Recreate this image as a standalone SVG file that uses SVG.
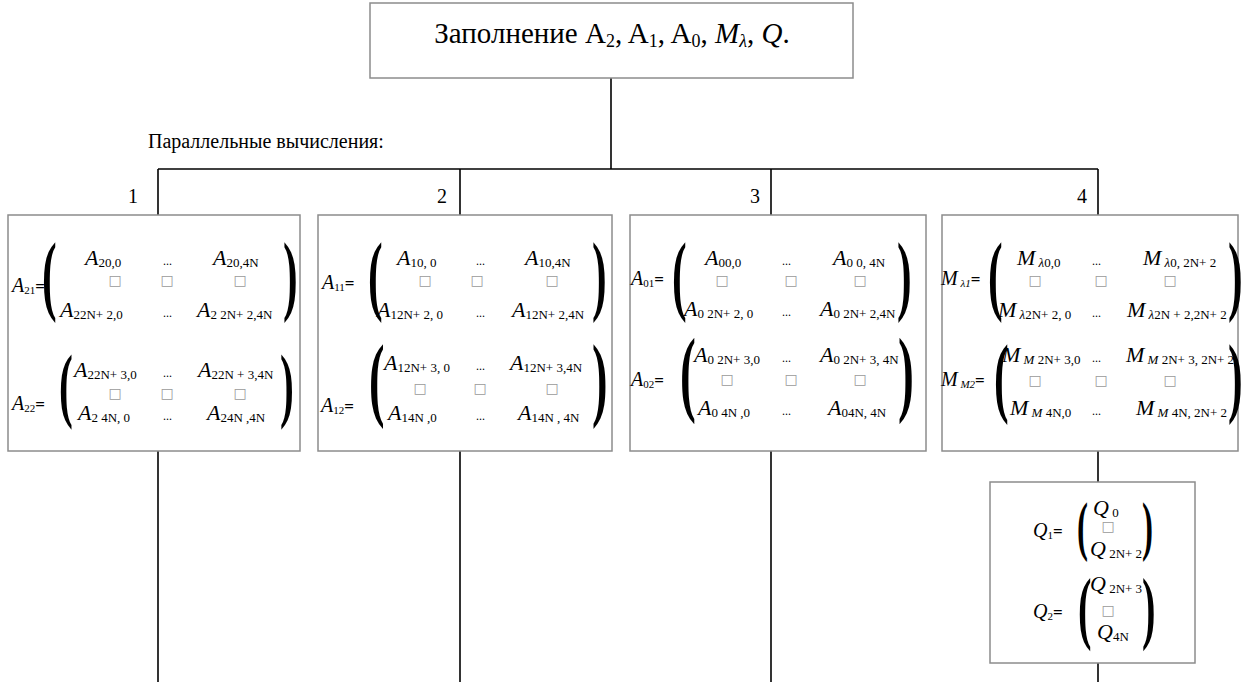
<svg xmlns="http://www.w3.org/2000/svg" width="1245" height="682" viewBox="0 0 1245 682">
<style>
.t{font-family:"Liberation Serif",serif;fill:#000}
.i{font-style:italic}
.m{font-size:22px}
.l{font-size:20px}
.s{font-size:13px;font-style:normal}
.si{font-size:13px;font-style:italic}
.ls{font-size:11px;font-style:normal}
.lsi{font-size:11px;font-style:italic}
.d{font-family:"Liberation Serif",serif;font-size:12px;fill:#000}
.q{font-family:"DejaVu Sans",sans-serif;font-size:14px;fill:#999;text-anchor:middle}
.qg{opacity:0.99}
.p{font-family:"Liberation Serif",serif;font-weight:bold;fill:#000}
.eq{font-weight:bold;font-size:17px}
.box{fill:#fff;stroke:#8c8c8c;stroke-width:1.5}
.ln{stroke:#000;stroke-width:1.6;fill:none}
.h{font-family:"Liberation Serif",serif;font-size:20px;fill:#000}
</style>
<rect width="1245" height="682" fill="#fff"/>
<g id="connectors">
<line class="ln" x1="611" y1="78" x2="611" y2="169"/>
<line class="ln" x1="158" y1="169" x2="1098" y2="169"/>
<line class="ln" x1="158" y1="169" x2="158" y2="215"/>
<line class="ln" x1="460" y1="169" x2="460" y2="215"/>
<line class="ln" x1="771" y1="169" x2="771" y2="215"/>
<line class="ln" x1="1098" y1="169" x2="1098" y2="215"/>
<line class="ln" x1="158" y1="451" x2="158" y2="682"/>
<line class="ln" x1="460" y1="451" x2="460" y2="682"/>
<line class="ln" x1="771" y1="451" x2="771" y2="682"/>
<line class="ln" x1="1098" y1="451" x2="1098" y2="482"/>
<line class="ln" x1="1098" y1="663" x2="1098" y2="682"/>
</g>
<g id="top">
<rect class="box" x="370" y="3" width="483" height="75"/>
<text class="t" font-size="29" x="612" y="43" text-anchor="middle">Заполнение A<tspan font-size="18" dy="4">2</tspan><tspan dy="-4">, A</tspan><tspan font-size="18" dy="4">1</tspan><tspan dy="-4">, A</tspan><tspan font-size="18" dy="4">0</tspan><tspan dy="-4">, </tspan><tspan class="i">M</tspan><tspan class="i" font-size="18" dy="4">λ</tspan><tspan dy="-4">, </tspan><tspan class="i">Q</tspan>.</text>
</g>
<g id="labels">
<text class="h" x="148" y="148">Параллельные вычисления:</text>
<text class="h" x="128" y="203">1</text>
<text class="h" x="437" y="203">2</text>
<text class="h" x="750" y="203">3</text>
<text class="h" x="1077" y="203">4</text>
</g>
<g id="node1">
<rect class="box" x="8" y="215" width="292" height="236"/>
<text class="t l" x="12" y="292"><tspan class="i">A</tspan><tspan class="ls" dy="2">21</tspan><tspan class="eq" dy="-2">=</tspan></text>
<text class="p" font-size="88" transform="translate(42,304) scale(0.5,1)">(</text>
<text class="p" font-size="88" transform="translate(283,304) scale(0.5,1)">)</text>
<text class="t m" x="85" y="265"><tspan class="i">A</tspan><tspan class="s" dy="2">20,0</tspan></text>
<text class="d" x="163" y="265">...</text>
<text class="t m" x="213" y="265"><tspan class="i">A</tspan><tspan class="s" dy="2">20,4N</tspan></text>
<g class="qg"><text class="q" x="115" y="285">□</text><text class="q" x="167" y="285">□</text><text class="q" x="240" y="285">□</text></g>
<text class="t m" x="60" y="317"><tspan class="i">A</tspan><tspan class="s" dy="2">22N+ 2,0</tspan></text>
<text class="d" x="163" y="317">...</text>
<text class="t m" x="197" y="317"><tspan class="i">A</tspan><tspan class="s" dy="2">2 2N+ 2,4N</tspan></text>
<text class="t l" x="12" y="410"><tspan class="i">A</tspan><tspan class="ls" dy="2">22</tspan><tspan class="eq" dy="-2">=</tspan></text>
<text class="p" font-size="83" transform="translate(59,412) scale(0.5,1)">(</text>
<text class="p" font-size="83" transform="translate(280,412) scale(0.5,1)">)</text>
<text class="t m" x="74" y="377"><tspan class="i">A</tspan><tspan class="s" dy="2">22N+ 3,0</tspan></text>
<text class="d" x="163" y="377">...</text>
<text class="t m" x="198" y="377"><tspan class="i">A</tspan><tspan class="s" dy="2">22N + 3,4N</tspan></text>
<g class="qg"><text class="q" x="115" y="398">□</text><text class="q" x="167" y="398">□</text><text class="q" x="240" y="398">□</text></g>
<text class="t m" x="78" y="420"><tspan class="i">A</tspan><tspan class="s" dy="2">2 4N, 0</tspan></text>
<text class="d" x="163" y="420">...</text>
<text class="t m" x="207" y="420"><tspan class="i">A</tspan><tspan class="s" dy="2">24N ,4N</tspan></text>
</g>
<g id="node2">
<rect class="box" x="318" y="215" width="294" height="236"/>
<text class="t l" x="322" y="289"><tspan class="i">A</tspan><tspan class="ls" dy="2">11</tspan><tspan class="eq" dy="-2">=</tspan></text>
<text class="p" font-size="88" transform="translate(368,304) scale(0.5,1)">(</text>
<text class="p" font-size="88" transform="translate(592,304) scale(0.5,1)">)</text>
<text class="t m" x="397" y="265"><tspan class="i">A</tspan><tspan class="s" dy="2">10, 0</tspan></text>
<text class="d" x="476" y="265">...</text>
<text class="t m" x="525" y="265"><tspan class="i">A</tspan><tspan class="s" dy="2">10,4N</tspan></text>
<g class="qg"><text class="q" x="425" y="285">□</text><text class="q" x="477" y="285">□</text><text class="q" x="552" y="285">□</text></g>
<text class="t m" x="377" y="317"><tspan class="i">A</tspan><tspan class="s" dy="2">12N+ 2, 0</tspan></text>
<text class="d" x="476" y="317">...</text>
<text class="t m" x="512" y="317"><tspan class="i">A</tspan><tspan class="s" dy="2">12N+ 2,4N</tspan></text>
<text class="t l" x="321" y="412"><tspan class="i">A</tspan><tspan class="ls" dy="2">12</tspan><tspan class="eq" dy="-2">=</tspan></text>
<text class="p" font-size="93" transform="translate(369,409) scale(0.5,1)">(</text>
<text class="p" font-size="93" transform="translate(592,409) scale(0.5,1)">)</text>
<text class="t m" x="384" y="370"><tspan class="i">A</tspan><tspan class="s" dy="2">12N+ 3, 0</tspan></text>
<text class="d" x="476" y="370">...</text>
<text class="t m" x="510" y="370"><tspan class="i">A</tspan><tspan class="s" dy="2">12N+ 3,4N</tspan></text>
<g class="qg"><text class="q" x="420" y="393">□</text><text class="q" x="480" y="393">□</text><text class="q" x="552" y="393">□</text></g>
<text class="t m" x="388" y="420"><tspan class="i">A</tspan><tspan class="s" dy="2">14N ,0</tspan></text>
<text class="d" x="476" y="420">...</text>
<text class="t m" x="518" y="420"><tspan class="i">A</tspan><tspan class="s" dy="2">14N , 4N</tspan></text>
</g>
<g id="node3">
<rect class="box" x="630" y="215" width="296" height="236"/>
<text class="t l" x="631" y="285"><tspan class="i">A</tspan><tspan class="ls" dy="2">01</tspan><tspan class="eq" dy="-2">=</tspan></text>
<text class="p" font-size="88" transform="translate(672,304) scale(0.5,1)">(</text>
<text class="p" font-size="88" transform="translate(897,304) scale(0.5,1)">)</text>
<text class="t m" x="705" y="265"><tspan class="i">A</tspan><tspan class="s" dy="2">00,0</tspan></text>
<text class="d" x="782" y="265">...</text>
<text class="t m" x="833" y="265"><tspan class="i">A</tspan><tspan class="s" dy="2">0 0, 4N</tspan></text>
<g class="qg"><text class="q" x="722" y="285">□</text><text class="q" x="791" y="285">□</text><text class="q" x="860" y="285">□</text></g>
<text class="t m" x="684" y="316"><tspan class="i">A</tspan><tspan class="s" dy="2">0 2N+ 2, 0</tspan></text>
<text class="d" x="782" y="316">...</text>
<text class="t m" x="820" y="316"><tspan class="i">A</tspan><tspan class="s" dy="2">0 2N+ 2,4N</tspan></text>
<text class="t l" x="631" y="386"><tspan class="i">A</tspan><tspan class="ls" dy="2">02</tspan><tspan class="eq" dy="-2">=</tspan></text>
<text class="p" font-size="95" transform="translate(680,404) scale(0.5,1)">(</text>
<text class="p" font-size="95" transform="translate(898,404) scale(0.5,1)">)</text>
<text class="t m" x="694" y="362"><tspan class="i">A</tspan><tspan class="s" dy="2">0 2N+ 3,0</tspan></text>
<text class="d" x="782" y="362">...</text>
<text class="t m" x="820" y="362"><tspan class="i">A</tspan><tspan class="s" dy="2">0 2N+ 3, 4N</tspan></text>
<g class="qg"><text class="q" x="727" y="384">□</text><text class="q" x="791" y="384">□</text><text class="q" x="860" y="384">□</text></g>
<text class="t m" x="698" y="415"><tspan class="i">A</tspan><tspan class="s" dy="2">0 4N ,0</tspan></text>
<text class="d" x="782" y="415">...</text>
<text class="t m" x="828" y="415"><tspan class="i">A</tspan><tspan class="s" dy="2">04N, 4N</tspan></text>
</g>
<g id="node4">
<rect class="box" x="942" y="215" width="296" height="236"/>
<text class="t l" x="941" y="285"><tspan class="i">M</tspan><tspan class="lsi" dy="2"> λ1</tspan><tspan class="eq" dy="-2">=</tspan></text>
<text class="p" font-size="88" transform="translate(988,304) scale(0.5,1)">(</text>
<text class="p" font-size="88" transform="translate(1228,304) scale(0.5,1)">)</text>
<text class="t m" x="1017" y="265"><tspan class="i">M</tspan><tspan class="si" dy="2"> λ</tspan><tspan class="s">0,0</tspan></text>
<text class="d" x="1092" y="265">...</text>
<text class="t m" x="1143" y="265"><tspan class="i">M</tspan><tspan class="si" dy="2"> λ</tspan><tspan class="s">0, 2N+ 2</tspan></text>
<g class="qg"><text class="q" x="1035" y="285">□</text><text class="q" x="1101" y="285">□</text><text class="q" x="1170" y="285">□</text></g>
<text class="t m" x="998" y="317"><tspan class="i">M</tspan><tspan class="si" dy="2"> λ</tspan><tspan class="s">2N+ 2, 0</tspan></text>
<text class="d" x="1092" y="317">...</text>
<text class="t m" x="1127" y="317"><tspan class="i">M</tspan><tspan class="si" dy="2"> λ</tspan><tspan class="s" font-size="12">2N + 2,2N+ 2</tspan></text>
<text class="t l" x="941" y="386"><tspan class="i">M</tspan><tspan class="lsi" dy="2"> M2</tspan><tspan class="eq" dy="-2">=</tspan></text>
<text class="p" font-size="88" transform="translate(994,406) scale(0.5,1)">(</text>
<text class="p" font-size="88" transform="translate(1228,406) scale(0.5,1)">)</text>
<text class="t m" x="1002" y="362"><tspan class="i">M</tspan><tspan class="si" dy="2"> M</tspan><tspan class="s"> 2N+ 3,0</tspan></text>
<text class="d" x="1092" y="362">...</text>
<text class="t m" x="1126" y="362"><tspan class="i">M</tspan><tspan class="si" dy="2"> M</tspan><tspan class="s" font-size="12"> 2N+ 3, 2N+ 2</tspan></text>
<g class="qg"><text class="q" x="1035" y="385">□</text><text class="q" x="1101" y="385">□</text><text class="q" x="1170" y="385">□</text></g>
<text class="t m" x="1010" y="415"><tspan class="i">M</tspan><tspan class="si" dy="2"> M</tspan><tspan class="s"> 4N,0</tspan></text>
<text class="d" x="1092" y="415">...</text>
<text class="t m" x="1136" y="415"><tspan class="i">M</tspan><tspan class="si" dy="2"> M</tspan><tspan class="s" font-size="12"> 4N, 2N+ 2</tspan></text>
</g>
<g id="node5">
<rect class="box" x="990" y="482" width="205" height="181"/>
<text class="t l" x="1033" y="537"><tspan class="i">Q</tspan><tspan class="ls" dy="2">1</tspan><tspan class="eq" dy="-2">=</tspan></text>
<text class="p" font-size="66" transform="translate(1077,548) scale(0.5,1)">(</text>
<text class="p" font-size="66" transform="translate(1142,548) scale(0.5,1)">)</text>
<text class="t m" x="1093" y="515"><tspan class="i">Q</tspan><tspan class="s" dy="2"> 0</tspan></text>
<g class="qg"><text class="q" x="1108" y="531">□</text></g>
<text class="t m" x="1090" y="556"><tspan class="i">Q</tspan><tspan class="s" dy="2"> 2N+ 2</tspan></text>
<text class="t l" x="1033" y="618"><tspan class="i">Q</tspan><tspan class="ls" dy="2">2</tspan><tspan class="eq" dy="-2">=</tspan></text>
<text class="p" font-size="81" transform="translate(1078,634) scale(0.5,1)">(</text>
<text class="p" font-size="81" transform="translate(1142,634) scale(0.5,1)">)</text>
<text class="t m" x="1090" y="591"><tspan class="i">Q</tspan><tspan class="s" dy="2"> 2N+ 3</tspan></text>
<g class="qg"><text class="q" x="1108" y="615">□</text></g>
<text class="t m" x="1097" y="639"><tspan class="i">Q</tspan><tspan class="s" dy="2">4N</tspan></text>
</g>
</svg>
